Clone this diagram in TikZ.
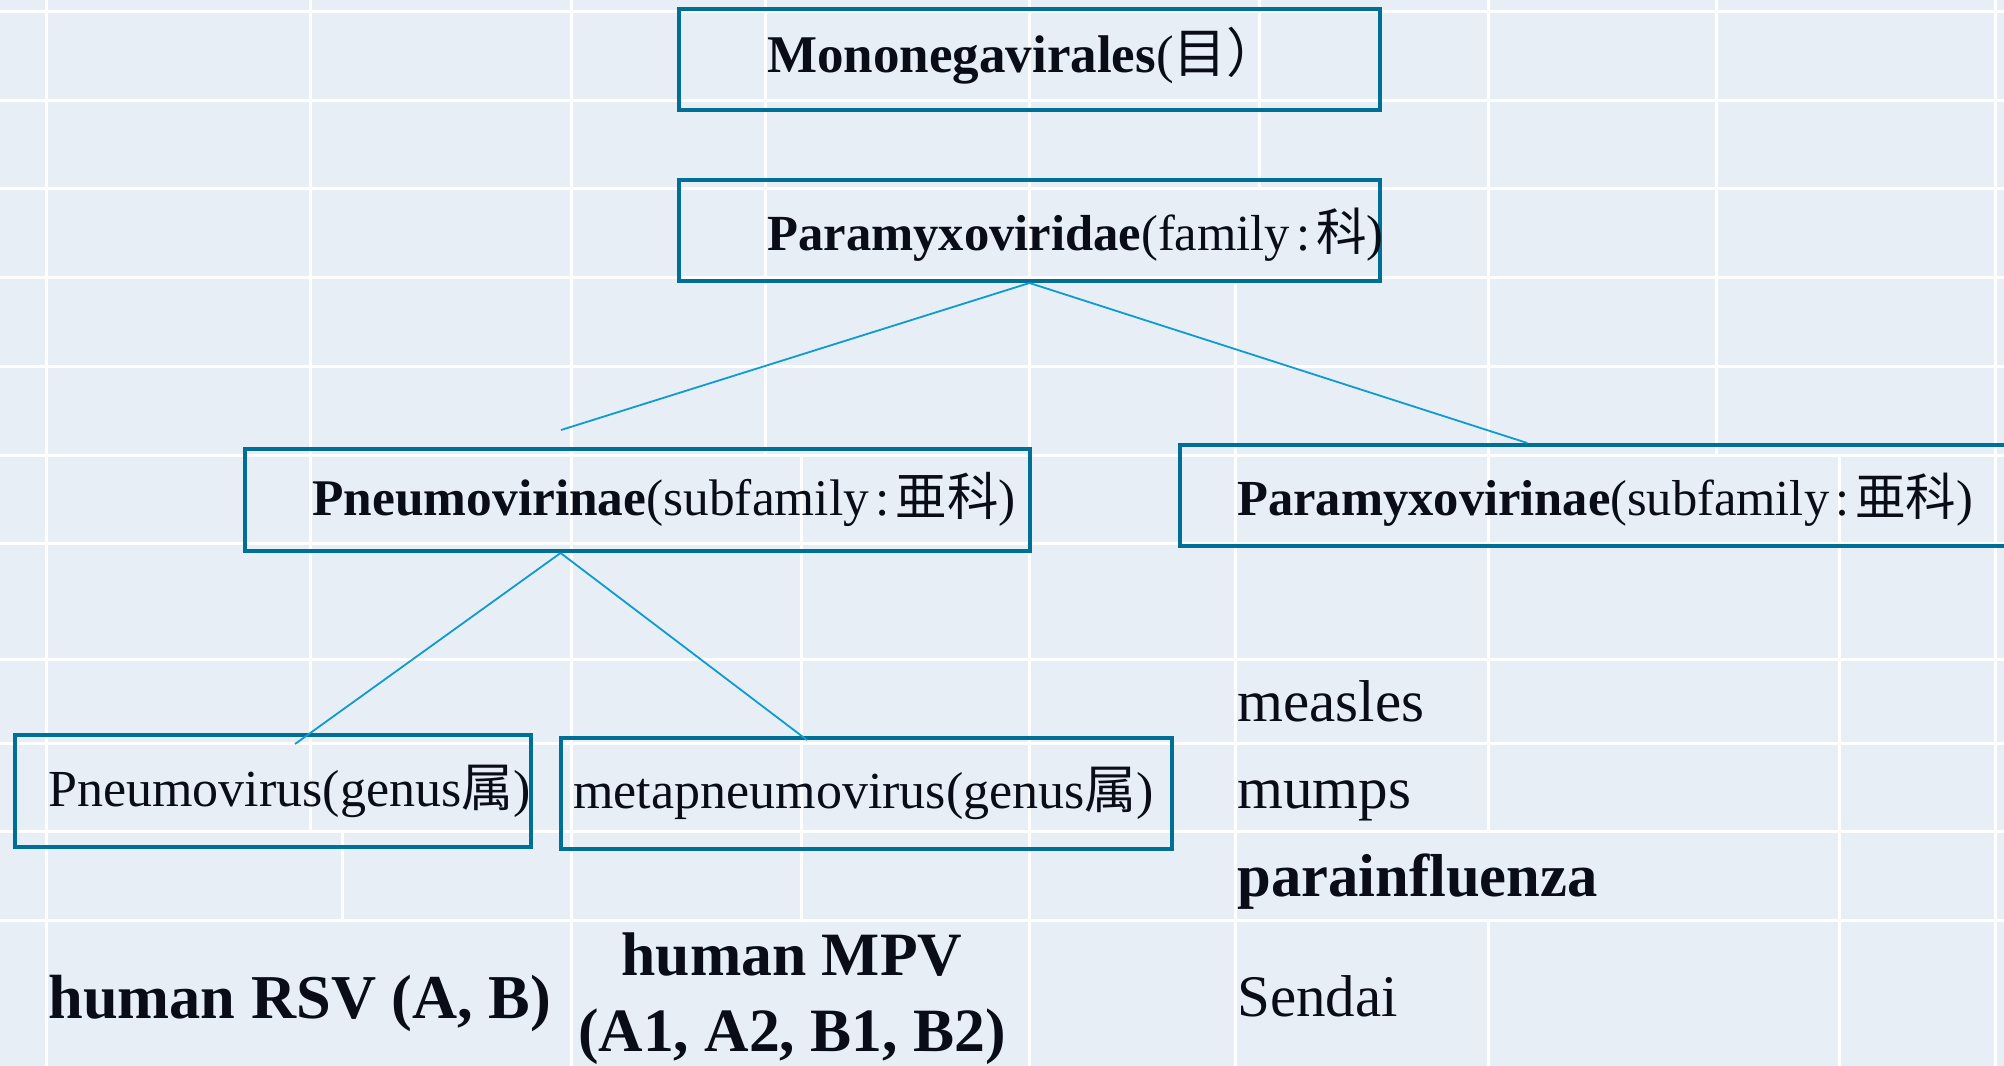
\documentclass[tikz,border=0pt]{standalone}
\usepackage{fontspec}
\setmainfont{Liberation Serif}
\newfontfamily\cjk{Noto Sans CJK JP}
\usetikzlibrary{fit,calc}
\definecolor{bg}{HTML}{E7EEF5}
\definecolor{boxc}{HTML}{006F96}
\definecolor{linkc}{HTML}{0E9BD0}
\definecolor{ink}{HTML}{0A0C18}
\newcommand\fsTop{\fontsize{26.5pt}{32pt}\selectfont}
\newcommand\fsFam{\fontsize{25.3pt}{32pt}\selectfont}
\newcommand\fsSubA{\fontsize{25.7pt}{32pt}\selectfont}
\newcommand\fsSubB{\fontsize{25.25pt}{32pt}\selectfont}
\newcommand\fsSub{\fontsize{26pt}{32pt}\selectfont}
\newcommand\fsLow{\fontsize{29.5pt}{39pt}\selectfont}
\newcommand\fsPara{\fontsize{30.3pt}{39pt}\selectfont}
\newcommand\fsRsv{\fontsize{31.2pt}{39pt}\selectfont}
\newcommand\fsMpv{\fontsize{30.8pt}{38pt}\selectfont}
\begin{document}
\begin{tikzpicture}[x=0.5pt,y=-0.5pt,
  vbox/.style={draw=boxc, line width=2pt, inner sep=0pt},
  lbl/.style={anchor=base west, inner sep=0pt, text=ink},
  conn/.style={draw=linkc, line width=0.9pt},
  gridline/.style={draw=white, line width=1.5pt}]
\path[use as bounding box, fill=bg] (0,0) rectangle (2004,1066);
\clip (0,0) rectangle (2004,1066);
% background grid
\foreach \y in {11,100,188,277,366,455,543,659,743,831,920}
  \draw[gridline] (0,\y) -- (2004,\y);
\foreach \x/\a/\b in {46/0/1066, 310/0/831, 342/831/920, 571.5/0/1066,
  765/0/455, 801/455/920, 1029/0/1066, 1259/0/188, 1235/277/1066,
  1488/0/831, 1488/920/1066, 1716/0/455, 1839/455/1066, 1995/0/1066}
  \draw[gridline] (\x,\a) -- (\x,\b);
% boxes
\node[vbox, fit={(679,9) (1380,110)}] (mono) {};
\node[vbox, fit={(679,180) (1380,281)}] (pvdae) {};
\node[vbox, fit={(245,449) (1030,551)}] (pnv) {};
\node[vbox, fit={(1180,445) (2030,546)}] (pmv) {};
\node[vbox, fit={(15,735) (531,847)}] (pneu) {};
\node[vbox, fit={(561,738) (1172,849)}] (meta) {};
% texts
\node[lbl, font=\fsTop] (tmono) at (767,72) {\textbf{Mononegavirales}({\cjk 目）}};
\node[lbl, font=\fsFam] (tpvdae) at (767,250) {\textbf{Paramyxoviridae}(family\hspace{0.12em}:\hspace{0.12em}{\cjk 科})};
\node[lbl, font=\fsSubA] (tpnv) at (312,515) {\textbf{Pneumovirinae}(subfamily\hspace{0.12em}:\hspace{0.12em}{\cjk 亜科})};
\node[lbl, font=\fsSubB] (tpmv) at (1237,515) {\textbf{Paramyxovirinae}(subfamily\hspace{0.12em}:\hspace{0.12em}{\cjk 亜科})};
\node[lbl, font=\fsSub] (tpneu) at (48,806) {Pneumovirus(genus{\cjk 属})};
\node[lbl, font=\fsSub] (tmeta) at (573,808) {metapneumovirus(genus{\cjk 属})};
\node[lbl, font=\fsLow] (measles) at (1237,721) {measles};
\node[lbl, font=\fsLow] (mumps) at (1237,808) {mumps};
\node[lbl, font=\fsPara] (para) at (1237,896) {\textbf{parainfluenza}};
\node[lbl, font=\fsLow] (sendai) at (1237,1016) {Sendai};
\node[lbl, font=\fsRsv] (rsv) at (48,1018) {\textbf{human RSV (A, B)}};
\node[anchor=base, inner sep=0pt, text=ink, font=\fsMpv, align=center] (mpv) at (792,1051) {\textbf{human MPV}\\\textbf{(A1, A2, B1, B2)}};
% connectors
\coordinate (e1) at (561,430);
\coordinate (e2) at ($(pmv.north west)!0.409!(pmv.north east)$);
\coordinate (a3) at ($(pnv.south west)!0.4025!(pnv.south east)$);
\coordinate (e3) at (295,744);
\coordinate (e4) at (807,740);
\draw[conn] (pvdae.south) -- (e1);
\draw[conn] (pvdae.south) -- (e2);
\draw[conn] (a3) -- (e3);
\draw[conn] (a3) -- (e4);
\end{tikzpicture}
\end{document}
